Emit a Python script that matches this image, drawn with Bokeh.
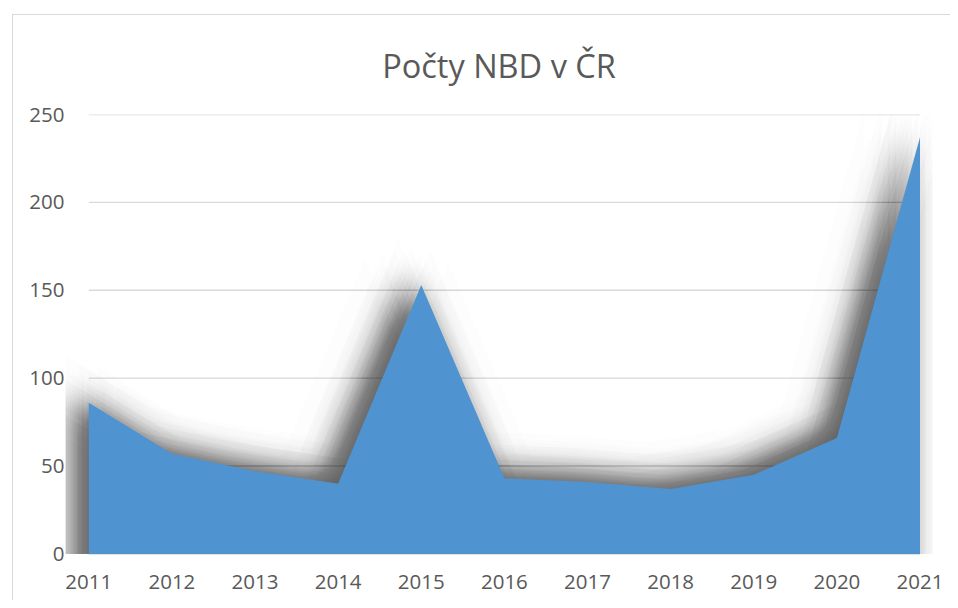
import math
from bokeh.plotting import figure
from bokeh.models import FixedTicker, Range1d
from bokeh.embed import file_html
from bokeh.resources import INLINE

years = [2011, 2012, 2013, 2014, 2015, 2016, 2017, 2018, 2019, 2020, 2021]
counts = [86, 57, 47, 40, 153, 43, 41, 37, 45, 66, 237]
y_ticks = [0, 50, 100, 150, 200, 250]
title_text = "Počty NBD v ČR"

FONT = "Open Sans"
TXT = "#595959"
px_per_year = 83.1
px_per_unit = 1.756

p = figure(x_range=Range1d(2010.72, 2021.15), y_range=Range1d(-6, 250),
           frame_width=867, frame_height=450,
           min_border_left=65, min_border_right=18, min_border_top=114, min_border_bottom=36,
           output_backend="svg", toolbar_location=None)
p.outline_line_color = None
p.background_fill_color = "white"
p.border_fill_color = None
p.styles = {"box-shadow": "inset 12px 14px 0 0 white, inset 13px 15px 0 0 #d9d9d9"}
p.xgrid.visible = False
p.ygrid.visible = False

# gridlines spanning the category extent only
for t in y_ticks:
    r = p.segment(x0=[years[0]], x1=[years[-1]], y0=[t], y1=[t], line_color="#d9d9d9", line_width=1.4)
    r.level = "underlay"

# soft shadow (offset up-left, gaussian-like blur): many faint copies
N = 100
sigma = 16.0
cx, cy = -14.0, 8.0
golden = math.pi * (3 - math.sqrt(5))
for i in range(N):
    u = (i + 0.5) / N
    rr = sigma * math.sqrt(-2.0 * math.log(1.0 - u))
    th = i * golden
    dxp = cx + rr * math.cos(th)
    dyp = cy + rr * math.sin(th)
    xs = [x + dxp / px_per_year for x in years]
    ys = [c + dyp / px_per_unit for c in counts]
    p.varea(x=xs, y1=[0] * len(xs), y2=ys, fill_color="black", fill_alpha=2 / 255)

p.varea(x=years, y1=[0] * len(years), y2=counts, fill_color="#4f94d1")

p.title.text = title_text
p.title.text_font = FONT
p.title.text_font_size = "32.5px"
p.title.text_font_style = "normal"
p.title.text_color = TXT
p.title.align = "center"
p.title.offset = -5
p.title.standoff = 54

p.xaxis.ticker = FixedTicker(ticks=years)
p.yaxis.ticker = FixedTicker(ticks=y_ticks)
for ax in (p.xaxis, p.yaxis):
    ax.axis_line_color = None
    ax.major_tick_line_color = None
    ax.minor_tick_line_color = None
    ax.major_tick_out = 0
    ax.major_tick_in = 0
    ax.major_label_text_font = FONT
    ax.major_label_text_font_size = "20.5px"
    ax.major_label_text_color = TXT
p.xaxis.major_label_standoff = 10
p.yaxis.major_label_standoff = 1

open("out.html", "w").write(file_html(p, INLINE))
